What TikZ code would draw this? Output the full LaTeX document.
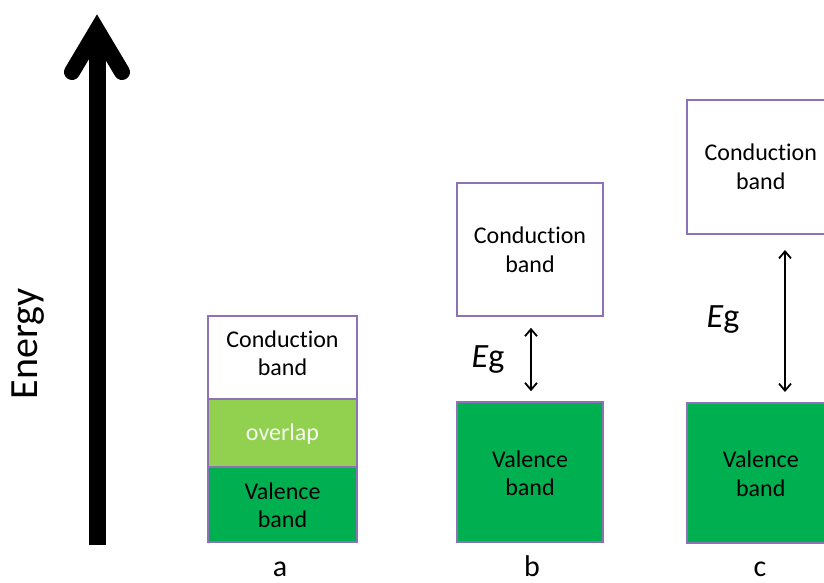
\documentclass[tikz,border=0pt]{standalone}
\usepackage{fontspec}
\setmainfont[Ligatures={NoCommon}]{Carlito}
\usetikzlibrary{arrows.meta}
\definecolor{bandedge}{HTML}{8E72B8}
\definecolor{valgreen}{HTML}{00B050}
\definecolor{ovgreen}{HTML}{92D050}
\begin{document}
\begin{tikzpicture}[x=1pt,y=-1pt,
  bandbox/.style={draw=bandedge,line width=1.6pt},
  bandtxt/.style={font=\fontsize{24}{28.5}\selectfont,align=center,text=black},
  gaparrow/.style={<->,>={Straight Barb[length=7pt,width=12pt]},line width=1.8pt},
  egtxt/.style={font=\fontsize{34}{36}\selectfont},
  lbl/.style={font=\fontsize{30}{32}\selectfont,anchor=base,inner sep=0pt}]
\useasboundingbox (0,0) rectangle (824,582);
% energy arrow
\coordinate (eb) at (97,545);
\coordinate (et) at (97,36);
\draw[line width=17pt] (eb) -- (et);
\draw[line width=16pt,line cap=round,line join=miter] (72,72) -- (97,30) -- (122,72);
\node[rotate=90,font=\fontsize{40}{44}\selectfont] (energy) at (28,344) {Energy};
% a
\fill[white] (208,316) rectangle (357,399);
\fill[ovgreen] (208,399) rectangle (357,467);
\fill[valgreen] (208,467) rectangle (357,542);
\draw[bandedge,line width=1.6pt] (208,399) -- (357,399) (208,467) -- (357,467);
\draw[bandbox] (208,316) rectangle (357,542);
\node[bandtxt] (acond) at (282.5,353) {Conduction\\band};
\node[bandtxt,text=white!92!ovgreen] (aov) at (282.5,434) {overlap};
\node[bandtxt] (aval) at (282.5,505) {Valence\\band};
\node[lbl] (la) at (280,576) {a};
% b
\node[bandbox,fill=white,minimum width=146pt,minimum height=133pt,inner sep=0pt] (bcond) at (530,249.5) {};
\node[bandtxt] at (bcond.center) {Conduction\\band};
\node[bandbox,fill=valgreen,minimum width=146pt,minimum height=140pt,inner sep=0pt] (bval) at (530,472) {};
\node[bandtxt] at ([yshift=-1pt]bval.center) {Valence\\band};
\draw[gaparrow] ([xshift=1pt,yshift=-11pt]bcond.south) -- ([xshift=1pt,yshift=10pt]bval.north);
\node[egtxt] (beg) at (488,360) {\textit{E}g};
\node[lbl] (lb) at (532,576) {b};
% c
\node[bandbox,fill=white,minimum width=148pt,minimum height=134pt,inner sep=0pt,anchor=north west] (ccond) at (686,99) {};
\node[bandtxt] at (ccond.center) {Conduction\\band};
\node[bandbox,fill=valgreen,minimum width=148pt,minimum height=140pt,inner sep=0pt,anchor=north west] (cval) at (686,402) {};
\node[bandtxt] at ([yshift=-1pt]cval.center) {Valence\\band};
\coordinate (ctop) at (785,250);
\coordinate (cbot) at (785,392);
\draw[gaparrow] (ctop) -- (cbot);
\node[egtxt] (ceg) at (723,320) {\textit{E}g};
\node[lbl] (lc) at (760,576) {c};
\end{tikzpicture}
\end{document}
